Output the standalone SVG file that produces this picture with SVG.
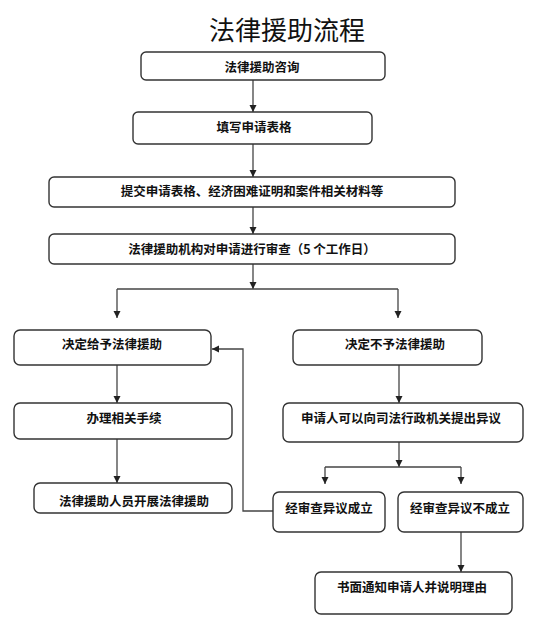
<svg xmlns="http://www.w3.org/2000/svg" width="551" height="633" viewBox="0 0 551 633">
<defs>
<marker id="arr" markerUnits="userSpaceOnUse" markerWidth="8" markerHeight="8" refX="7" refY="4" orient="auto">
<path d="M0,0.5 L7,4 L0,7.5 z" fill="#222"/>
</marker>
<style>
.box{fill:#fff;stroke:#333;stroke-width:1.4}
.t{font-family:"Noto Sans CJK SC","Noto Sans",sans-serif;font-size:12.5px;font-weight:bold;fill:#111;text-anchor:middle}
.title{font-family:"Noto Sans CJK SC","Noto Sans",sans-serif;font-size:26px;fill:#111;text-anchor:middle}
.ln{fill:none;stroke:#444;stroke-width:1.3}
.ar{fill:none;stroke:#444;stroke-width:1.3;marker-end:url(#arr)}
</style>
</defs>
<rect width="551" height="633" fill="#fff"/>
<text class="title" x="287" y="40">法律援助流程</text>
<g id="connectors">
<line class="ar" x1="253" y1="80" x2="253" y2="112"/>
<line class="ar" x1="253" y1="144" x2="253" y2="177"/>
<line class="ar" x1="253" y1="207" x2="253" y2="234"/>
<line class="ar" x1="253" y1="264" x2="253" y2="289"/>
<polyline class="ln" points="117,289 398,289"/>
<line class="ar" x1="117" y1="289" x2="117" y2="318"/>
<line class="ar" x1="398" y1="289" x2="398" y2="318"/>
<line class="ar" x1="117" y1="365" x2="117" y2="403"/>
<line class="ar" x1="117" y1="439" x2="117" y2="483"/>
<line class="ar" x1="399" y1="365" x2="399" y2="403"/>
<line class="ar" x1="399" y1="442" x2="399" y2="467"/>
<polyline class="ln" points="325,467 461,467"/>
<line class="ar" x1="325" y1="467" x2="325" y2="484"/>
<line class="ar" x1="461" y1="467" x2="461" y2="484"/>
<polyline class="ar" points="273,511 243,511 243,349 212,349"/>
<line class="ar" x1="461" y1="532" x2="461" y2="572"/>
</g>
<g id="n1"><rect class="box" x="141" y="52" width="244" height="28" rx="5"/><text class="t" x="262" y="72">法律援助咨询</text></g>
<g id="n2"><rect class="box" x="133" y="112" width="239" height="32" rx="5"/><text class="t" x="254" y="132">填写申请表格</text></g>
<g id="n3"><rect class="box" x="49" y="177" width="406" height="30" rx="5"/><text class="t" x="252" y="196">提交申请表格、经济困难证明和案件相关材料等</text></g>
<g id="n4"><rect class="box" x="49" y="234" width="406" height="30" rx="5"/><text class="t" x="252" y="254">法律援助机构对申请进行审查（5 个工作日）</text></g>
<g id="n5"><rect class="box" x="14" y="330" width="197" height="35" rx="6"/><text class="t" x="112" y="349">决定给予法律援助</text></g>
<g id="n6"><rect class="box" x="293" y="330" width="189" height="35" rx="6"/><text class="t" x="395" y="349">决定不予法律援助</text></g>
<g id="n7"><rect class="box" x="14" y="403" width="218" height="36" rx="6"/><text class="t" x="124" y="423">办理相关手续</text></g>
<g id="n8"><rect class="box" x="283" y="403" width="240" height="39" rx="6"/><text class="t" x="401" y="423">申请人可以向司法行政机关提出异议</text></g>
<g id="n9"><rect class="box" x="34" y="483" width="198" height="30" rx="6"/><text class="t" x="134" y="506">法律援助人员开展法律援助</text></g>
<g id="n10"><rect class="box" x="273" y="492" width="112" height="40" rx="6"/><text class="t" x="329" y="513">经审查异议成立</text></g>
<g id="n11"><rect class="box" x="398" y="492" width="125" height="40" rx="6"/><text class="t" x="460" y="513">经审查异议不成立</text></g>
<g id="n12"><rect class="box" x="315" y="572" width="197" height="42" rx="6"/><text class="t" x="412" y="592">书面通知申请人并说明理由</text></g>
</svg>
